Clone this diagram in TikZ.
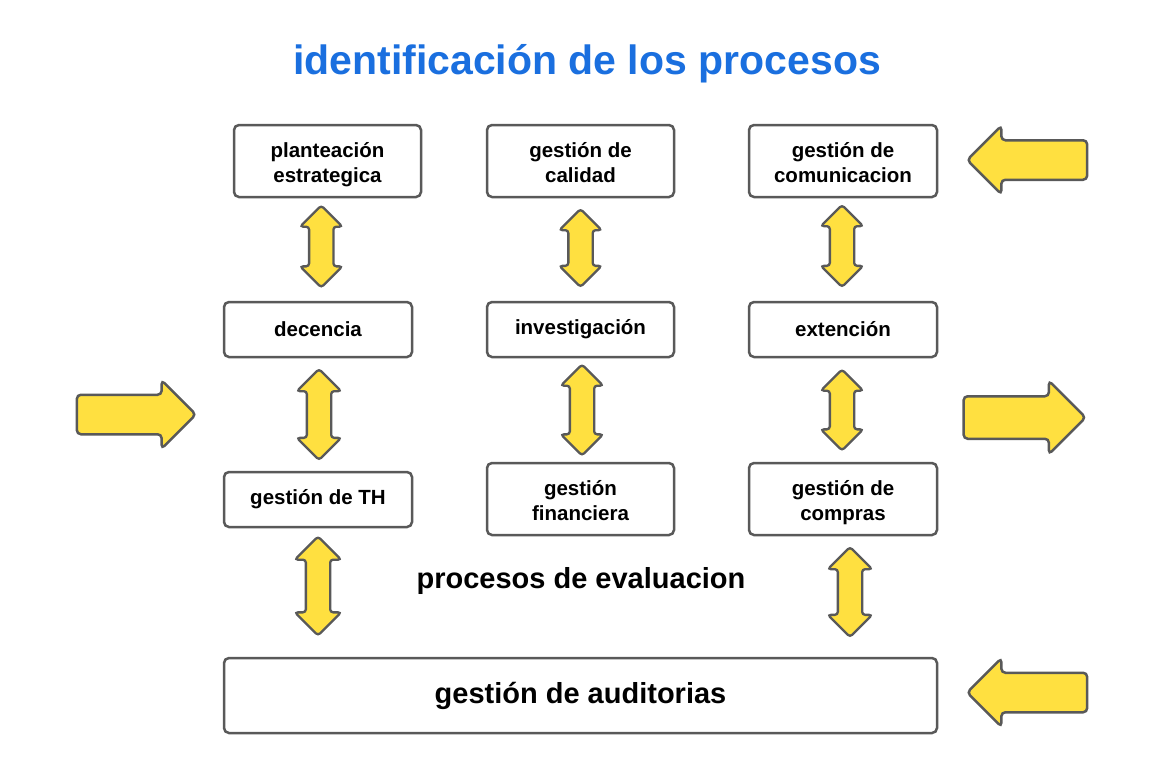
\documentclass[tikz,border=0pt]{standalone}
\usepackage{fontspec}
\setmainfont{Liberation Sans}
\usetikzlibrary{calc, shapes.arrows}
\definecolor{titleblue}{HTML}{1A6FDF}
\definecolor{boxgray}{HTML}{595959}
\definecolor{arrowyellow}{HTML}{FFE040}
\tikzset{x = 1pt, y = -1pt}
\tikzset{proc/.style = {draw = boxgray, line width = 2.5pt, rounded corners = 5pt, align = center, font = \fontsize{20.5}{25}\selectfont\bfseries, minimum width = 187pt}}
\tikzset{twoline/.style = {proc, minimum height = 72pt, text height = 46pt, text depth = 4pt}}
\tikzset{dbl/.style = {double arrow, draw = boxgray, fill = arrowyellow, line width = 2.3pt, rounded corners = 3pt, rotate = 90, inner xsep = 0pt, inner ysep = 11pt, double arrow head extend = 9pt}}
\tikzset{big/.style = {single arrow, draw = boxgray, fill = arrowyellow, line width = 2.5pt, rounded corners = 4pt, inner xsep = 0pt, inner ysep = 18.5pt, single arrow head extend = 14.5pt}}

\begin{document}
\begin{tikzpicture}
    \useasboundingbox (0,0) rectangle (1162,771);
    \node[font = \fontsize{41}{48}\selectfont\bfseries, text = titleblue] (title) at (587,64) {identificación de los procesos};
    \node[twoline] (plan) at (327.5,161) {planteación\\estrategica};
    \node[twoline] (cal) at (580.5,161) {gestión de\\calidad};
    \node[twoline, minimum width = 188pt] (com) at (843,161) {gestión de\\comunicacion};
    \node[proc, minimum height = 55pt, minimum width = 188pt] (dec) at (318,329.5) {decencia};
    \node[proc, minimum height = 55pt] (inv) at (580.5,329.5) {investigación};
    \node[proc, minimum height = 55pt, minimum width = 188pt] (ext) at (843,329.5) {extención};
    \node[proc, minimum height = 55pt, minimum width = 188pt] (th) at (318,499.5) {gestión de TH};
    \node[twoline] (fin) at (580.5,499) {gestión\\financiera};
    \node[twoline, minimum width = 188pt] (comp) at (843,499) {gestión de\\compras};
    \node[proc, minimum height = 75pt, minimum width = 713pt, font = \fontsize{29}{34}\selectfont\bfseries] (aud) at (580.5,695.5) {gestión de auditorias};
    \node[font = \fontsize{29}{34}\selectfont\bfseries] (eval) at (581,581) {procesos de evaluacion};
    \node[dbl, minimum height = 82pt] (pd) at ($(plan.south)!0.5!(dec.north) + (-1.5,-3)$) {};
    \node[dbl, minimum height = 78pt] (ci) at ($(cal.south)!0.5!(inv.north) + (0,-1.5)$) {};
    \node[dbl, minimum height = 82pt] (ce) at ($(com.south)!0.5!(ext.north) + (-1,-3.5)$) {};
    \node[dbl, minimum height = 91pt, double arrow head extend = 10pt] (dt) at ($(dec.south)!0.5!(th.north) + (1,0)$) {};
    \node[dbl, minimum height = 91pt] (if) at ($(inv.south)!0.5!(fin.north) + (1.5,0)$) {};
    \node[dbl, minimum height = 81pt] (ec) at ($(ext.south)!0.5!(comp.north) + (-1,0)$) {};
    \node[dbl, minimum height = 99pt, double arrow head extend = 11pt] (ta) at ($(th.south)!0.5!(th.south |- aud.north) + (0,-6.5)$) {};
    \node[dbl, minimum height = 90pt, double arrow head extend = 10pt] (ca) at ($(comp.south)!0.5!(comp.south |- aud.north) + (7,-4.5)$) {};
    \node[big, minimum height = 120pt, rotate = 180] (inA) at (1037,160) {};
    \node[big, minimum height = 119pt] (inB) at (126.5,414.5) {};
    \node[big, minimum height = 122pt, inner ysep = 20pt, single arrow head extend = 15.5pt] (outA) at (1014,417.5) {};
    \node[big, minimum height = 120pt, rotate = 180] (inC) at (1037,692.5) {};
\end{tikzpicture}
\end{document}
